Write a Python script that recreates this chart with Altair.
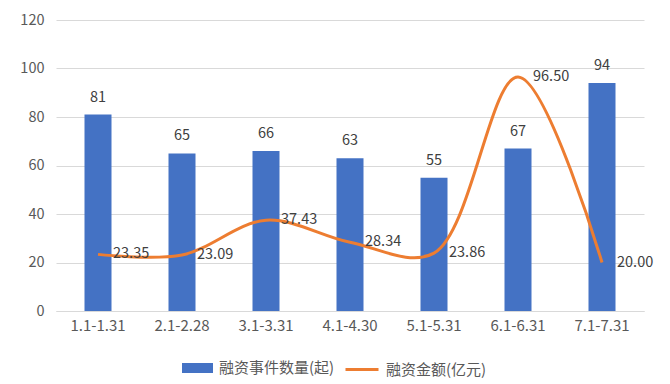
import altair as alt
import pandas as pd

categories = ["1.1-1.31", "2.1-2.28", "3.1-3.31", "4.1-4.30", "5.1-5.31", "6.1-6.31", "7.1-7.31"]
event_counts = [81, 65, 66, 63, 55, 67, 94]
amounts = [23.35, 23.09, 37.43, 28.34, 23.86, 96.50, 20.00]
bar_name = "融资事件数量(起)"
line_name = "融资金额(亿元)"

df = pd.DataFrame({
    "cat": categories,
    "count": event_counts,
    "amount": amounts,
    "amount_label": [f"{v:.2f}" for v in amounts],
    "bar_series": bar_name,
    "line_series": line_name,
})

FONT = "Noto Sans CJK SC"
BLUE = "#4472C4"
ORANGE = "#ED7D31"

x = alt.X("cat:N", sort=categories, title=None,
          scale=alt.Scale(paddingInner=0.68, paddingOuter=0.34),
          axis=alt.Axis(labelAngle=0, ticks=False, domainColor="#D9D9D9",
                        labelColor="#595959", labelFontSize=15, labelPadding=7,
                        grid=False))
yscale = alt.Scale(domain=[0, 120])

base = alt.Chart(df)

bars = base.mark_bar(size=27).encode(
    x=x,
    y=alt.Y("count:Q", scale=yscale, title=None,
            axis=alt.Axis(values=[0, 20, 40, 60, 80, 100, 120], ticks=False, domain=False,
                          gridColor="#D9D9D9", labelColor="#595959", labelFontSize=14.5,
                          labelPadding=12)),
    color=alt.Color("bar_series:N", title=None,
                    scale=alt.Scale(domain=[bar_name], range=[BLUE]),
                    legend=alt.Legend(orient="none", legendX=131.5, legendY=338, padding=0,
                                      symbolType="M-1.55,-0.5H1.55V0.5H-1.55Z",
                                      symbolSize=400, symbolStrokeWidth=0, labelOffset=11.5,
                                      labelFontSize=15, labelColor="#595959", labelFont=FONT)),
)

bar_text = base.mark_text(dy=-17, fontSize=14.5, color="#404040", font=FONT, baseline="middle").encode(
    x=x,
    y=alt.Y("count:Q", scale=yscale),
    text=alt.Text("count:Q"),
)

line = base.mark_line(interpolate="catmull-rom", strokeWidth=3).encode(
    x=x,
    y=alt.Y("amount:Q", scale=yscale),
    stroke=alt.Stroke("line_series:N", title=None,
                      scale=alt.Scale(domain=[line_name], range=[ORANGE]),
                      legend=alt.Legend(orient="none", legendX=294.5, legendY=338, padding=0,
                                        symbolType="M-1.65,0H1.65", symbolSize=400,
                                        symbolStrokeWidth=3, symbolStrokeColor=ORANGE,
                                        symbolFillColor="transparent", labelOffset=12.5,
                                        labelFontSize=15, labelColor="#595959",
                                        labelFont=FONT)),
)

line_text = base.mark_text(dx=15, align="left", baseline="middle", fontSize=14.5,
                           color="#404040", font=FONT).encode(
    x=x,
    y=alt.Y("amount:Q", scale=yscale),
    text=alt.Text("amount_label:N"),
)

chart = alt.layer(bars, bar_text, line, line_text).resolve_scale(
    color="independent", stroke="independent"
).properties(
    width=588, height=291,
    autosize=alt.AutoSizeParams(type="none"),
    padding={"left": 48, "top": 12, "right": 18, "bottom": 72},
).configure_view(stroke=None).configure_axis(labelFont=FONT).configure_legend(
    labelFont=FONT
)

chart.save("out.html", embed_options={"renderer": "svg", "actions": False})
